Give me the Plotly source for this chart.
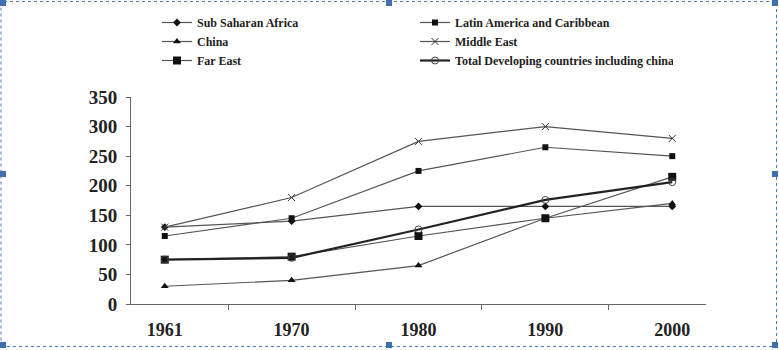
import plotly.graph_objects as go

years = ["1961", "1970", "1980", "1990", "2000"]
ssa = [130, 140, 165, 165, 165]
latam = [115, 145, 225, 265, 250]
china = [30, 40, 65, 145, 170]
mideast = [130, 180, 275, 300, 280]
fareast = [75, 80, 115, 145, 215]
total = [75, 78, 126, 176, 206]
y_ticks = [0, 50, 100, 150, 200, 250, 300, 350]

W, H = 779, 350
L, R, T, B = 131, 73, 97, 46
pw, ph = W - L - R, H - T - B

fig = go.Figure()
series = [
    ("Sub Saharan Africa", ssa, dict(symbol="diamond", size=6, color="#111"), dict(color="#555", width=1.2)),
    ("Latin America and Caribbean", latam, dict(symbol="square", size=6, color="#111"), dict(color="#555", width=1.2)),
    ("China", china, dict(symbol="triangle-up", size=7, color="#111"), dict(color="#555", width=1.2)),
    ("Middle East", mideast, dict(symbol="x-thin-open", size=7, color="#333", line=dict(width=1, color="#333")), dict(color="#555", width=1.2)),
    ("Far East", fareast, dict(symbol="square", size=8, color="#111"), dict(color="#555", width=1.2)),
    ("Total Developing countries including china", total, dict(symbol="circle-open", size=7, color="#444", line=dict(width=1, color="#444")), dict(color="#222", width=2.2)),
]
for name, vals, mk, ln in series:
    fig.add_trace(go.Scatter(x=years, y=vals, name=name, mode="lines+markers",
                             marker=mk, line=ln))

def px_x(px):
    return (px - L) / pw

def px_y(py):
    return (H - B - py) / ph

shapes = [dict(type="rect", xref="paper", yref="paper",
               x0=px_x(1), x1=px_x(776.5), y0=px_y(346.5), y1=px_y(1.5),
               line=dict(color="#4a78b8", width=1, dash="dot"), layer="above")]
for cx, cy in [(3, 3), (389, 3), (775, 3), (3, 174), (775, 174), (3, 345), (389, 345), (775, 345)]:
    shapes.append(dict(type="rect", xref="paper", yref="paper",
                       x0=px_x(cx - 3), x1=px_x(cx + 3), y0=px_y(cy + 3), y1=px_y(cy - 3),
                       fillcolor="#3f6fae", line=dict(width=0)))

fig.update_layout(
    width=W, height=H,
    margin=dict(l=L, r=R, t=T, b=B, autoexpand=False),
    paper_bgcolor="white", plot_bgcolor="white",
    font=dict(family="Liberation Serif", color="#222"),
    showlegend=True,
    legend=dict(orientation="h", x=px_x(157), y=px_y(8), xanchor="left", yanchor="top",
                entrywidth=213, entrywidthmode="pixels", itemwidth=30,
                font=dict(family="Liberation Serif", size=12, weight="bold", color="#222"),
                tracegroupgap=0),
    xaxis=dict(type="category", showline=True, linecolor="#666", linewidth=1,
               ticks="outside", ticklen=5, tickcolor="#666", tickson="boundaries",
               showgrid=False, zeroline=False, ticklabelstandoff=9, automargin=False,
               tickfont=dict(family="Liberation Serif", size=18, weight="bold", color="#222")),
    yaxis=dict(range=[0, 350], tickvals=y_ticks, showline=True, linecolor="#666", linewidth=1,
               ticks="outside", ticklen=4, tickcolor="#666", showgrid=False, zeroline=False,
               ticklabelstandoff=5, automargin=False,
               tickfont=dict(family="Liberation Serif", size=19, weight="bold", color="#222")),
    shapes=shapes,
)
fig.write_html("out.html")
